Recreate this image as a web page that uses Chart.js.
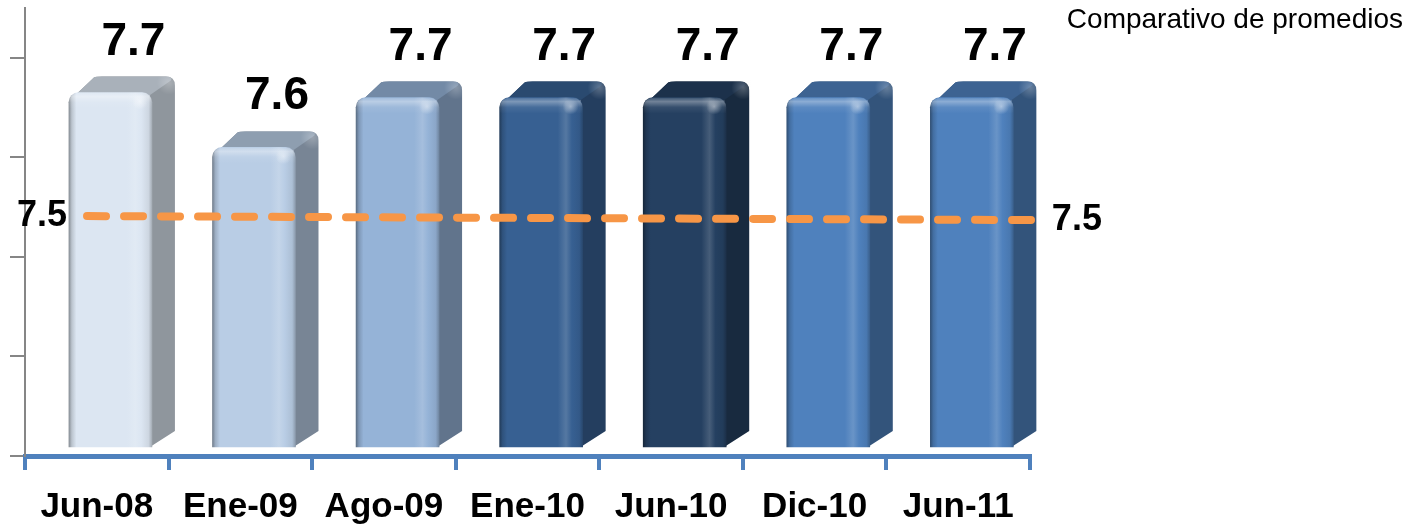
<!DOCTYPE html>
<html><head><meta charset="utf-8">
<script src="https://cdn.jsdelivr.net/npm/chart.js@4/dist/chart.umd.min.js"></script>
<style>html,body{margin:0;padding:0;background:#fff;overflow:hidden}#wrap{width:1416px;height:531px;position:relative}</style>
</head><body><div id="wrap"><canvas id="c" width="1416" height="531"></canvas></div>
<script>
// ---- data ----
const categories = ['Jun-08','Ene-09','Ago-09','Ene-10','Jun-10','Dic-10','Jun-11'];
const promedios = [7.73, 7.62, 7.72, 7.72, 7.72, 7.72, 7.72];
const barLabels = ['7.7','7.6','7.7','7.7','7.7','7.7','7.7'];
const lineaPromedio = [7.482, 7.474];
const lineaLabels = ['7.5','7.5'];
const yTicks = [7.0, 7.2, 7.4, 7.6, 7.8];
const chartTitle = 'Comparativo de promedios';

// ---- styles ----
const frontColors = ['#DCE6F2','#B9CDE5','#95B3D7','#376092','#254061','#4F81BD','#4F81BD'];
const FONT = "'Liberation Sans', Arial, sans-serif";
const barShift = 0.095;      // front face offset (category units)
const barW = 83;
const barBase = 7.018;
const lineStartX = -0.068, lineEndX = 6.52;
const depth = {dx: 23, dy: 16};

function hexToRgb(h){h=h.replace('#','');if(h.length===3)h=h.split('').map(c=>c+c).join('');return [parseInt(h.substr(0,2),16),parseInt(h.substr(2,2),16),parseInt(h.substr(4,2),16)];}
function mix(c, t, k){const a=hexToRgb(c), b=hexToRgb(t);return 'rgb('+a.map((v,i)=>Math.round(v+(b[i]-v)*k)).join(',')+')';}

function frontFill(c){
  const chart = c.chart, i = c.dataIndex;
  if (!chart.chartArea || i === undefined) return frontColors[0];
  const cx = chart.scales.x2.getPixelForValue(i + barShift);
  const L = cx - barW/2, R = cx + barW/2;
  const col = frontColors[i];
  const g = chart.ctx.createLinearGradient(L,0,R,0);
  g.addColorStop(0, mix(col,'#000000',0.38));
  g.addColorStop(0.035, mix(col,'#000000',0.15));
  g.addColorStop(0.09, col);
  g.addColorStop(0.70, col);
  g.addColorStop(0.80, mix(col,'#ffffff',0.15));
  g.addColorStop(0.87, col);
  g.addColorStop(0.96, mix(col,'#000000',0.07));
  g.addColorStop(1, mix(col,'#000000',0.25));
  return g;
}

const depthPlugin = {
  id: 'depth3d',
  beforeDatasetsDraw(chart){
    const meta = chart.getDatasetMeta(0);
    const ctx = chart.ctx;
    const {dx, dy} = depth;
    meta.data.forEach((bar, i) => {
      const p = bar.getProps(['x','y','base','width'], true);
      const L = p.x - p.width/2, R = p.x + p.width/2, T = p.y, B = p.base;
      const col = frontColors[i];
      const r = 9;
      ctx.save();
      ctx.beginPath();
      ctx.moveTo(L + 6, T + 3);
      ctx.lineTo(L + 6 + dx - 4, T - dy + 1);
      ctx.quadraticCurveTo(L + dx + 4, T - dy, L + dx + 10, T - dy);
      ctx.lineTo(R + dx - r, T - dy);
      ctx.quadraticCurveTo(R + dx, T - dy, R + dx, T - dy + r);
      ctx.lineTo(R + dx, B - dy);
      ctx.lineTo(R - 2, B);
      ctx.lineTo(R - 2, T + 3);
      ctx.closePath();
      ctx.fillStyle = mix(col, '#000000', 0.35);
      ctx.fill();
      ctx.beginPath();
      ctx.moveTo(L + 6, T + 3);
      ctx.lineTo(L + 6 + dx - 4, T - dy + 1);
      ctx.quadraticCurveTo(L + dx + 4, T - dy, L + dx + 10, T - dy);
      ctx.lineTo(R + dx - r, T - dy);
      ctx.quadraticCurveTo(R + dx - 2, T - dy, R + dx - 4, T - dy + 4);
      ctx.lineTo(R - 4, T + 4);
      ctx.closePath();
      ctx.fillStyle = mix(col, '#000000', 0.23);
      ctx.fill();
      const gr = ctx.createRadialGradient(R + dx - 6, T - dy + 6, 0, R + dx - 6, T - dy + 6, 12);
      gr.addColorStop(0, 'rgba(255,255,255,0.25)');
      gr.addColorStop(1, 'rgba(255,255,255,0)');
      ctx.fillStyle = gr;
      ctx.fillRect(R + dx - 20, T - dy - 2, 22, 22);
      ctx.restore();
    });
  },
  afterDatasetDraw(chart, args){
    if (args.index !== 0) return;
    const meta = chart.getDatasetMeta(0);
    const ctx = chart.ctx;
    meta.data.forEach((bar) => {
      const p = bar.getProps(['x','y','base','width'], true);
      const L = p.x - p.width/2, R = p.x + p.width/2, T = p.y;
      ctx.save();
      ctx.beginPath();
      ctx.roundRect(L, T, R - L, 20, [10, 10, 0, 0]);
      ctx.clip();
      const g = ctx.createLinearGradient(0, T, 0, T + 16);
      g.addColorStop(0, 'rgba(255,255,255,0.10)');
      g.addColorStop(0.25, 'rgba(255,255,255,0.35)');
      g.addColorStop(0.6, 'rgba(255,255,255,0.08)');
      g.addColorStop(1, 'rgba(255,255,255,0)');
      ctx.fillStyle = g;
      ctx.fillRect(L, T, R - L, 20);
      const gr = ctx.createRadialGradient(R - 12, T + 9, 0, R - 12, T + 9, 8);
      gr.addColorStop(0, 'rgba(255,255,255,0.45)');
      gr.addColorStop(1, 'rgba(255,255,255,0)');
      ctx.fillStyle = gr;
      ctx.fillRect(R - 22, T, 20, 20);
      ctx.restore();
    });
  },
  afterDraw(chart){
    const ctx = chart.ctx;
    const {dx, dy} = depth;
    ctx.save();
    ctx.fillStyle = '#000';
    ctx.font = 'bold 46px ' + FONT;
    ctx.textAlign = 'center';
    ctx.textBaseline = 'alphabetic';
    chart.getDatasetMeta(0).data.forEach((bar, i) => {
      const p = bar.getProps(['x','y'], true);
      ctx.fillText(barLabels[i], p.x + dx, p.y - dy - 22);
    });
    const pts = chart.getDatasetMeta(1).data;
    ctx.font = 'bold 36px ' + FONT;
    ctx.textBaseline = 'middle';
    ctx.textAlign = 'right';
    ctx.fillText(lineaLabels[0], pts[0].x - 20, pts[0].y);
    ctx.textAlign = 'left';
    ctx.fillText(lineaLabels[1], pts[1].x + 19, pts[1].y);
    ctx.font = '28px ' + FONT;
    ctx.textAlign = 'right';
    ctx.textBaseline = 'alphabetic';
    ctx.fillText(chartTitle, chart.width - 13, 28);
    ctx.restore();
  }
};

new Chart(document.getElementById('c'), {
  data: {
    labels: categories,
    datasets: [
      {
        type: 'bar', xAxisID: 'x2', yAxisID: 'y', order: 1,
        data: promedios.map((v, i) => ({x: i + barShift, y: v})),
        base: barBase,
        barThickness: barW,
        backgroundColor: frontFill,
        borderRadius: {topLeft: 10, topRight: 10, bottomLeft: 0, bottomRight: 0},
        borderSkipped: 'start',
        borderWidth: 0
      },
      {
        type: 'line', xAxisID: 'x2', yAxisID: 'y', order: 0,
        data: [{x: lineStartX, y: lineaPromedio[0]}, {x: lineEndX, y: lineaPromedio[1]}],
        borderColor: '#F79646', borderWidth: 8, borderDash: [19, 18],
        borderCapStyle: 'round', pointRadius: 0, tension: 0, clip: false, fill: false
      }
    ]
  },
  options: {
    responsive: false, animation: false,
    layout: {padding: {left: 10, right: 386, top: 8, bottom: 3}},
    plugins: {legend: {display: false}, tooltip: {enabled: false}, title: {display: false}},
    scales: {
      x: {
        type: 'category', labels: categories, offset: true, position: 'bottom',
        afterFit: s => { s.height = 72; },
        grid: {offset: true, drawOnChartArea: false, drawTicks: true, tickLength: 14, color: '#4F81BD', lineWidth: 4},
        border: {display: true, color: '#4F81BD', width: 5},
        ticks: {font: {family: FONT, size: 35, weight: 'bold'}, color: '#000', padding: 16, maxRotation: 0, autoSkip: false}
      },
      x2: {type: 'linear', min: -0.5, max: 6.5, display: false, offset: false, grace: 0},
      y: {
        min: 7.0, max: 7.9,
        afterBuildTicks: s => { s.ticks = yTicks.map(v => ({value: v})); },
        grid: {drawOnChartArea: false, drawTicks: true, tickLength: 15, color: '#868686', lineWidth: 2},
        border: {display: true, color: '#868686', width: 2},
        ticks: {display: false}
      }
    }
  },
  plugins: [depthPlugin]
});
</script></body></html>
